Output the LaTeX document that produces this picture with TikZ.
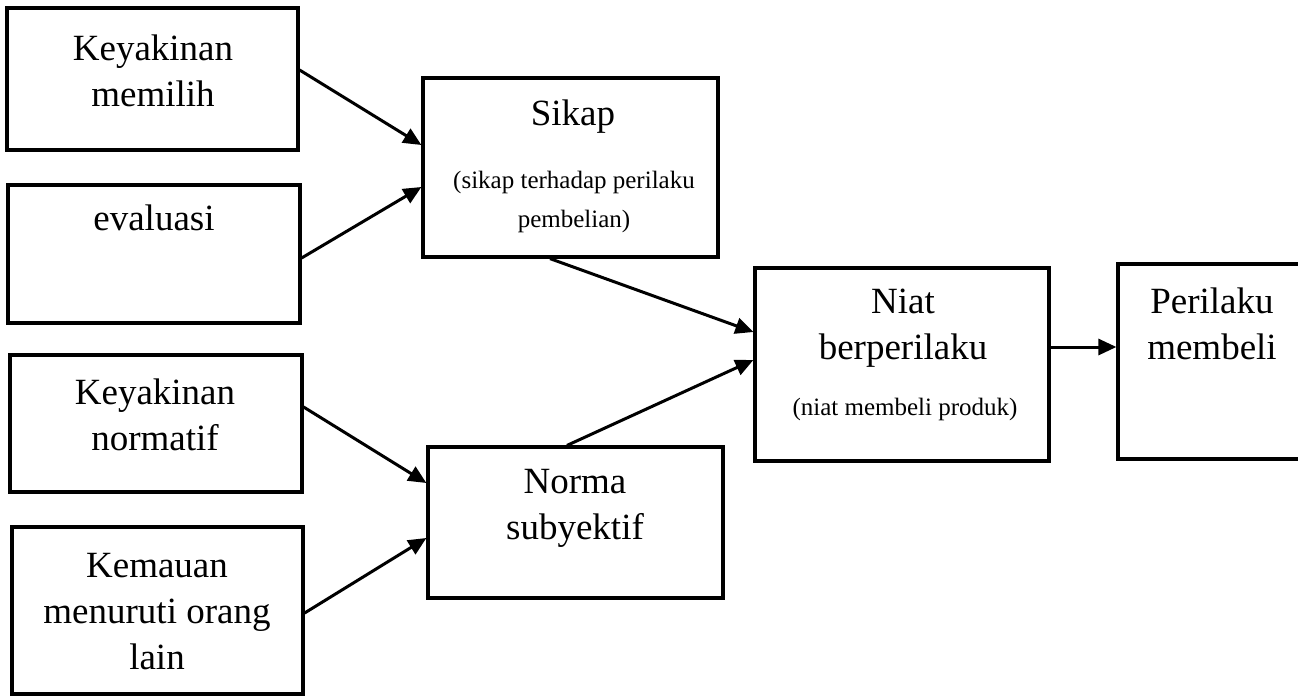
\documentclass[tikz,border=0pt]{standalone}
\usepackage{fontspec}
\setmainfont{Liberation Serif}
\usepackage{tikz}
\usetikzlibrary{arrows.meta}

\begin{document}
\begin{tikzpicture}[x=0.5pt,y=-0.5pt,
        box/.style={draw,line width=1.6pt,inner sep=0pt},
        lbl/.style={align=center,inner sep=0pt,font=\fontsize{18.5}{23}\selectfont},
        sub/.style={align=center,inner sep=0pt,font=\fontsize{12.5}{19.5}\selectfont},
        arr/.style={line width=1.5pt,-{Triangle[length=9pt,width=8pt]}}]
        \useasboundingbox (0,0) rectangle (1298,698);

        % Boxes
        \node [box,minimum width=145.5pt,minimum height=71pt]   (km)    at (152.5,79)    {};
        \node [box,minimum width=146pt,minimum height=69pt]     (ev)    at (154,254)     {};
        \node [box,minimum width=146pt,minimum height=68.5pt]   (kn)    at (156,423.5)   {};
        \node [box,minimum width=145.5pt,minimum height=83.5pt] (kem)   at (157.5,610.5) {};
        \node [box,minimum width=147.5pt,minimum height=89.5pt] (sikap) at (570.5,167.5) {};
        \node [box,minimum width=147.5pt,minimum height=75.5pt] (norma) at (575.5,522.5) {};
        \node [box,minimum width=147pt,minimum height=96.5pt]   (niat)  at (902,364.5)   {};
        \node [box,minimum width=94pt,minimum height=97.5pt]    (beli)  at (1212,361.5)  {};

        % Labels
        \node [lbl] (kmt)    at (153,71)    {Keyakinan\\memilih};
        \node [lbl] (evt)    at (154,217.5) {evaluasi};
        \node [lbl] (knt)    at (155,415)   {Keyakinan\\normatif};
        \node [lbl] (kemt)   at (157,611.5) {Kemauan\\menuruti orang\\lain};
        \node [lbl] (sikapt) at (573,116.5) {Sikap};
        \node [sub] (sikaps) at (574,201.5) {(sikap terhadap perilaku\\pembelian)};
        \node [lbl] (normat) at (575,508.5) {Norma\\subyektif};
        \node [lbl] (niatt)  at (903,328)   {Niat\\berperilaku};
        \node [sub] (niats)  at (905,409)   {(niat membeli produk)};
        \node [lbl] (belit)  at (1212,324)  {Perilaku\\membeli};

        % Arrows
        \draw [arr] ([yshift=4.5pt]km.east)      -- ([yshift=11.25pt]sikap.west);
        \draw [arr] ([yshift=-2pt]ev.east)       -- ([yshift=-9.75pt]sikap.west);
        \draw [arr] ([yshift=8.25pt]kn.east)     -- ([yshift=19.75pt]norma.west);
        \draw [arr] ([yshift=-1.25pt]kem.east)   -- ([yshift=-7.75pt]norma.west);
        \draw [arr] ([xshift=-10.25pt]sikap.south) -- ([yshift=16.25pt]niat.west);
        \draw [arr] ([xshift=-4.25pt]norma.north)  -- ([yshift=2.25pt]niat.west);
        \draw [arr] ([yshift=8.75pt]niat.east)   -- ([yshift=7.25pt]beli.west);
    \end{tikzpicture}
\end{document}
